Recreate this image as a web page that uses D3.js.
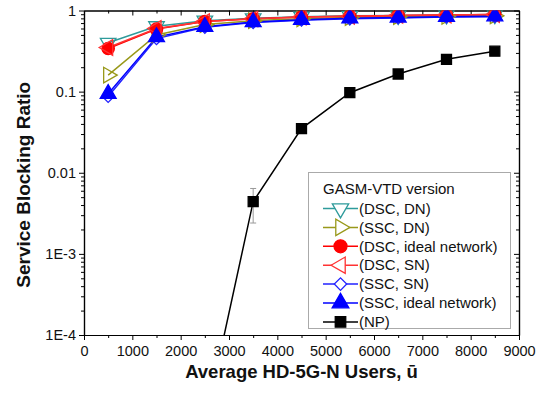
<!DOCTYPE html>
<html><head><meta charset="utf-8">
<script src="https://cdn.jsdelivr.net/npm/d3@7"></script>
<style>body{margin:0;background:#fff}svg{display:block}text{font-family:"Liberation Sans",Arial,sans-serif}</style>
</head><body><svg id="c" width="542" height="394"></svg>
<script>
const users = [500,1500,2500,3500,4500,5500,6500,7500,8500];
const dscDN   = [0.40,0.64,0.75,0.80,0.84,0.86,0.87,0.88,0.89];
const sscDN   = [0.16,0.50,0.67,0.75,0.79,0.82,0.84,0.85,0.86];
const dscIdeal= [0.34,0.59,0.73,0.79,0.83,0.85,0.87,0.88,0.89];
const dscSN   = [0.35,0.60,0.73,0.79,0.83,0.85,0.87,0.88,0.89];
const sscSN   = [0.087,0.45,0.62,0.71,0.76,0.79,0.81,0.83,0.84];
const sscIdeal= [0.094,0.47,0.63,0.72,0.77,0.80,0.82,0.835,0.85];
const npUsers = [2500,3500,4500,5500,6500,7500,8500];
const np      = [0.000008,0.0044,0.035,0.097,0.165,0.25,0.315];
const npErrLo = [null,0.0024,null,null,null,null,null];
const npErrHi = [null,0.0064,null,null,null,null,null];
const xTicks = [0,1000,2000,3000,4000,5000,6000,7000,8000,9000];
const yTicks = [1e-4,1e-3,1e-2,1e-1,1];
const yTickLabels = ["1E-4","1E-3","0.01","0.1","1"];
const legendTitle = "GASM-VTD version";

const series = [
  {name:"(DSC, DN)", x:users, y:dscDN, color:"#2e9b9b", shape:"tdown", fill:false},
  {name:"(SSC, DN)", x:users, y:sscDN, color:"#99991a", shape:"tright", fill:false},
  {name:"(DSC, ideal network)", x:users, y:dscIdeal, color:"#ff0000", shape:"circle", fill:true},
  {name:"(DSC, SN)", x:users, y:dscSN, color:"#ff3333", shape:"tleft", fill:false},
  {name:"(SSC, SN)", x:users, y:sscSN, color:"#2222ff", shape:"diamond", fill:false},
  {name:"(SSC, ideal network)", x:users, y:sscIdeal, color:"#0000ff", shape:"tup", fill:true},
  {name:"(NP)", x:npUsers, y:np, color:"#000000", shape:"square", fill:true}
];

const L=84, R=519, T=10.5, B=335;
const x = d3.scaleLinear().domain([0,9000]).range([L,R]);
const y = d3.scaleLog().domain([1e-4,1]).range([B,T]);
const svg = d3.select("#c");

svg.append("defs").append("clipPath").attr("id","clip")
  .append("rect").attr("x",L).attr("y",T).attr("width",R-L).attr("height",B-T);

const minorY=[];
for(let e=-4;e<0;e++) for(let k=2;k<10;k++) minorY.push(k*Math.pow(10,e));
const minorX=d3.range(500,9000,1000);

function styleAxis(g){g.select(".domain").attr("stroke","#000").attr("stroke-width",1.2);
  g.selectAll(".tick line").attr("stroke","#000").attr("stroke-width",1);
  g.selectAll("text").attr("font-size",14.5).attr("fill","#111");}

svg.append("g").attr("transform",`translate(0,${B})`)
  .call(d3.axisBottom(x).tickValues(xTicks).tickFormat(d3.format("d")).tickSize(5).tickSizeOuter(0).tickPadding(6))
  .call(styleAxis);
svg.append("g").attr("transform",`translate(0,${B})`)
  .call(d3.axisBottom(x).tickValues(minorX).tickFormat("").tickSize(3).tickSizeOuter(0)).call(styleAxis);
svg.append("g").attr("transform",`translate(0,${T})`)
  .call(d3.axisBottom(x).tickValues(xTicks).tickFormat("").tickSize(5).tickSizeOuter(0)).call(styleAxis);
svg.append("g").attr("transform",`translate(0,${T})`)
  .call(d3.axisBottom(x).tickValues(minorX).tickFormat("").tickSize(3).tickSizeOuter(0)).call(styleAxis);

svg.append("g").attr("transform",`translate(${L},0)`)
  .call(d3.axisLeft(y).tickValues(yTicks).tickFormat((d,i)=>yTickLabels[i]).tickSize(5).tickSizeOuter(0).tickPadding(3))
  .call(styleAxis);
svg.append("g").attr("transform",`translate(${L},0)`)
  .call(d3.axisLeft(y).tickValues(minorY).tickFormat("").tickSize(3).tickSizeOuter(0)).call(styleAxis);
svg.append("g").attr("transform",`translate(${R},0)`)
  .call(d3.axisLeft(y).tickValues(yTicks).tickFormat("").tickSize(5).tickSizeOuter(0)).call(styleAxis);
svg.append("g").attr("transform",`translate(${R},0)`)
  .call(d3.axisLeft(y).tickValues(minorY).tickFormat("").tickSize(3).tickSizeOuter(0)).call(styleAxis);

const sym = {
  tdown:{t:d3.symbolTriangle, rot:180, size:105},
  tup:{t:d3.symbolTriangle, rot:0, size:110},
  tright:{t:d3.symbolTriangle, rot:90, size:105},
  tleft:{t:d3.symbolTriangle, rot:-90, size:105},
  circle:{t:d3.symbolCircle, rot:0, size:120},
  square:{t:d3.symbolSquare, rot:0, size:100},
  diamond:{t:d3.symbolSquare, rot:45, size:70}
};
function drawMarker(g,s,cx,cy,scale){
  const m=sym[s.shape];
  g.append("path").attr("d",d3.symbol().type(m.t).size(m.size*(scale||1))())
   .attr("transform",`translate(${cx},${cy}) rotate(${m.rot})`)
   .attr("fill",s.fill?s.color:"none").attr("stroke",s.color).attr("stroke-width",1.3);
}

const plot = svg.append("g").attr("clip-path","url(#clip)");
const line = d3.line().x(d=>x(d[0])).y(d=>y(d[1]));
series.forEach(s=>{
  const pts=s.x.map((v,i)=>[v,s.y[i]]);
  plot.append("path").attr("d",line(pts)).attr("fill","none").attr("stroke",s.color).attr("stroke-width",1.5);
});
npUsers.forEach((u,i)=>{
  if(npErrLo[i]==null) return;
  const g=plot.append("g").attr("stroke","#999").attr("stroke-width",1);
  g.append("line").attr("x1",x(u)).attr("x2",x(u)).attr("y1",y(npErrLo[i])).attr("y2",y(npErrHi[i]));
  [npErrLo[i],npErrHi[i]].forEach(v=>g.append("line").attr("x1",x(u)-3).attr("x2",x(u)+3).attr("y1",y(v)).attr("y2",y(v)));
});
series.forEach(s=>{
  s.x.forEach((v,i)=>{ if(s.y[i]>=1e-4) drawMarker(plot,s,x(v),y(s.y[i])); });
});

const lg = svg.append("g");
lg.append("rect").attr("x",308.5).attr("y",172.5).attr("width",202).attr("height",156)
  .attr("fill","#fff").attr("stroke","#aaa").attr("stroke-width",1);
lg.append("text").attr("x",323).attr("y",194).attr("font-size",15).attr("fill","#111").text(legendTitle);
series.forEach((s,i)=>{
  const cy=208.5+i*18.9;
  lg.append("line").attr("x1",323).attr("x2",358).attr("y1",cy).attr("y2",cy).attr("stroke",s.color).attr("stroke-width",1.5);
  const m=sym[s.shape];
  lg.append("path").attr("d",d3.symbol().type(m.t).size(m.size*1.1)())
    .attr("transform",`translate(340.5,${cy}) rotate(${m.rot})`)
    .attr("fill",s.fill?s.color:"#fff").attr("stroke",s.color).attr("stroke-width",1.3);
  lg.append("text").attr("x",359).attr("y",cy+5.2).attr("font-size",15).attr("fill","#111").text(s.name);
});

svg.append("text").attr("x",(L+R)/2).attr("y",378).attr("text-anchor","middle")
  .attr("font-size",18.5).attr("font-weight","bold").attr("fill","#111").text("Average HD-5G-N Users, ū");
svg.append("text").attr("transform",`translate(30,${(T+B)/2+12}) rotate(-90)`).attr("text-anchor","middle")
  .attr("font-size",19).attr("font-weight","bold").attr("fill","#111").text("Service Blocking Ratio");
</script></body></html>
